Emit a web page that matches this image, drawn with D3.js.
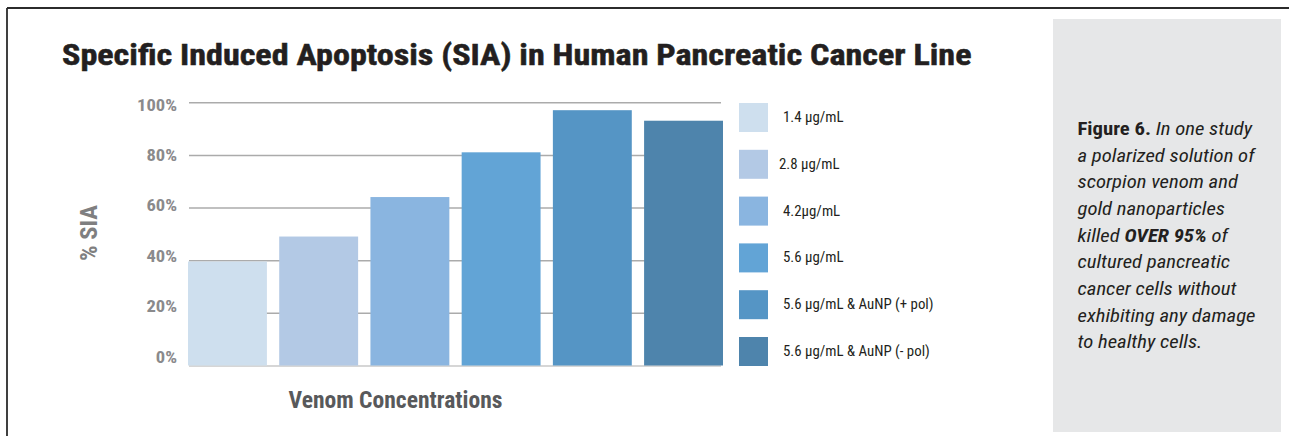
<!DOCTYPE html>
<html>
<head>
<meta charset="utf-8">
<script src="https://cdn.jsdelivr.net/npm/d3@7"></script>
<style>
  html, body { margin: 0; padding: 0; background: #fff; }
  svg { display: block; }
  text { font-family: "Liberation Sans Narrow", "Arial Narrow", "Roboto Condensed", "Liberation Sans", Arial, sans-serif; }
</style>
</head>
<body>
<svg id="chart" width="1289" height="436"></svg>
<script>
// ---------------- data ----------------
const categories = ["1.4 µg/mL", "2.8 µg/mL", "4.2µg/mL", "5.6 µg/mL", "5.6 µg/mL & AuNP (+ pol)", "5.6 µg/mL & AuNP (- pol)"];
const values = [39.5, 49, 64, 81, 97, 93];
const barColors = ["#cedfee", "#b3c9e5", "#8ab5e0", "#62a4d6", "#5595c5", "#4e84ac"];
const yTicks = [0, 20, 40, 60, 80, 100];
const titleText = "Specific Induced Apoptosis (SIA) in Human Pancreatic Cancer Line";
const yTitle = "% SIA";
const xTitle = "Venom Concentrations";
const noteLines = [
  [["Figure 6.", "b"], [" In one study", "i"]],
  [["a polarized solution of", "i"]],
  [["scorpion venom and", "i"]],
  [["gold nanoparticles", "i"]],
  [["killed ", "i"], ["OVER 95%", "bi"], [" of", "i"]],
  [["cultured pancreatic", "i"]],
  [["cancer cells without", "i"]],
  [["exhibiting any damage", "i"]],
  [["to healthy cells.", "i"]]
];

// ---------------- layout ----------------
const svg = d3.select("#chart");

function place(sel, x, y, scaleX, rot) {
  sel.attr("x", 0).attr("y", 0)
     .attr("transform", `translate(${x},${y})` + (rot ? ` rotate(${rot})` : "") + ` scale(${scaleX},1)`);
}
function ratioFor(sel, target) {
  const w = sel.node().getComputedTextLength();
  return w > 0 ? target / w : 1;
}

// frame
svg.append("line").attr("x1", 7).attr("x2", 1289).attr("y1", 8).attr("y2", 8)
   .attr("stroke", "#2b2b2b").attr("stroke-width", 1.8);
svg.append("line").attr("x1", 7).attr("x2", 7).attr("y1", 8).attr("y2", 436)
   .attr("stroke", "#2b2b2b").attr("stroke-width", 1.8);

// side panel
svg.append("rect").attr("x", 1053).attr("y", 19).attr("width", 228).attr("height", 413)
   .attr("fill", "#e6e7e8");

// title
const title = svg.append("text").text(titleText)
  .attr("font-size", 30).attr("font-weight", "bold").attr("fill", "#231f20")
  .attr("stroke", "#231f20").attr("stroke-width", 0.5);
place(title, 62, 65, ratioFor(title, 910));

// scales
const x = d3.scaleBand().domain(categories).range([188, 723]).paddingInner(0.135).paddingOuter(0);
const y = d3.scaleLinear().domain([0, 100]).range([365.5, 102.3]);
// tick labels in the original sit on a slightly tighter spacing than the grid
const yLab = d3.scaleLinear().domain([0, 100]).range([362.7, 110.5]);

// gridlines via axis
const grid = svg.append("g").attr("transform", "translate(189,0)")
  .call(d3.axisLeft(y).tickValues(yTicks).tickSize(-532).tickFormat(""));
grid.select(".domain").remove();
grid.selectAll(".tick line").attr("stroke", "#ababab").attr("stroke-width", 1.5);
grid.selectAll(".tick").filter(d => d === 0).select("line").attr("stroke", "#c8c8c8");

// tick labels
const tickG = svg.append("g");
let tickRatio = null;
yTicks.forEach(t => {
  const tx = tickG.append("text").text("100%")
    .attr("font-size", 16.5).attr("font-weight", "bold").attr("fill", "#8a8a8c")
    .attr("text-anchor", "end");
  if (tickRatio === null) tickRatio = ratioFor(tx, 40);
  tx.text(t + "%");
  place(tx, 177, yLab(t), tickRatio);
});

// bars
svg.append("g").selectAll("rect").data(values).join("rect")
  .attr("x", (d, i) => x(categories[i]))
  .attr("width", x.bandwidth())
  .attr("y", d => y(d))
  .attr("height", d => y(0) - y(d))
  .attr("fill", (d, i) => barColors[i]);

// y title
const yt = svg.append("text").text(yTitle)
  .attr("font-size", 23).attr("font-weight", "bold").attr("fill", "#7f7f80")
  .attr("text-anchor", "middle");
place(yt, 96.5, 233, ratioFor(yt, 56), -90);

// x title
const xt = svg.append("text").text(xTitle)
  .attr("font-size", 23).attr("font-weight", "bold").attr("fill", "#58595b")
  .attr("text-anchor", "middle");
place(xt, 395.5, 408.3, ratioFor(xt, 214));

// legend
const legStep = 46.8;
const leg = svg.append("g");
let legRatio = null;
categories.forEach((c, i) => {
  const top = 103 + i * legStep;
  leg.append("rect").attr("x", 739).attr("y", top).attr("width", 29).attr("height", 29)
    .attr("fill", barColors[i]);
  const lt = leg.append("text").text(c).attr("font-size", 14).attr("fill", "#231f20");
  if (legRatio === null) { lt.text(categories[4]); legRatio = ratioFor(lt, 150.7); lt.text(c); }
  place(lt, i === 1 ? 779 : 783, top + 19, legRatio);
});

// side note
const note = svg.append("g");
let noteRatio = null;
noteLines.forEach((line, i) => {
  const t = note.append("text").attr("font-size", 18.5).attr("fill", "#231f20");
  line.forEach(([s, st]) => {
    t.append("tspan").text(s)
      .attr("font-weight", st.includes("b") ? "bold" : "normal")
      .attr("font-style", st.includes("i") ? "italic" : "normal");
  });
  if (i === 7) noteRatio = ratioFor(t, 178);
});
note.selectAll("text").each(function (d, i) {
  place(d3.select(this), 1077.5, 135 + i * 26.67, noteRatio);
});
</script>
</body>
</html>
